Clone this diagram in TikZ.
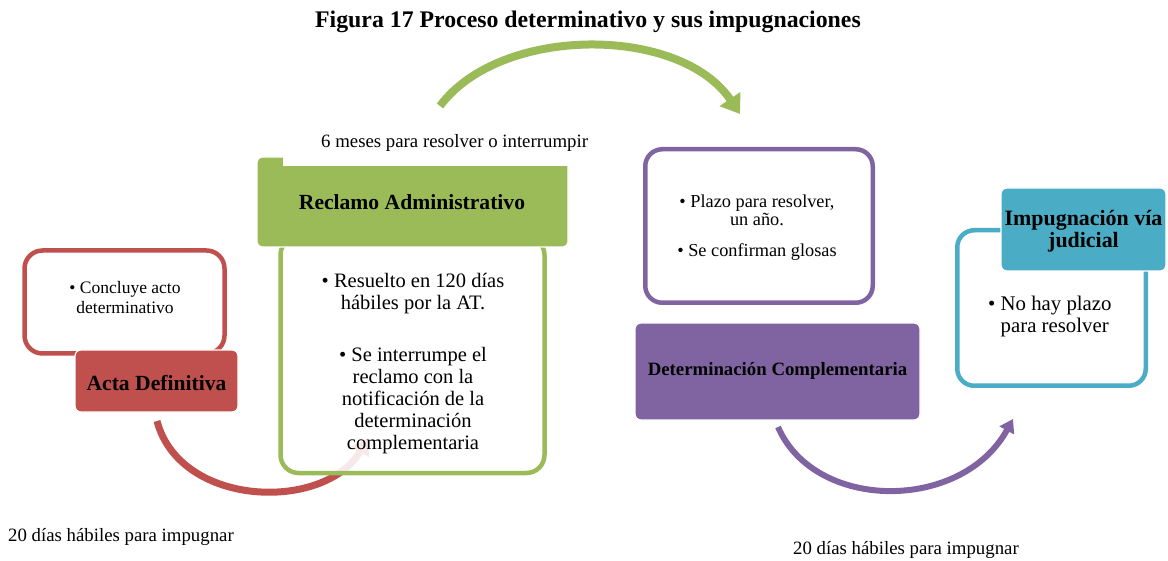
\documentclass[tikz,border=0pt]{standalone}
\usepackage{fontspec}
\setmainfont{Liberation Serif}
\usetikzlibrary{arrows.meta}
\definecolor{cred}{HTML}{C0504D}
\definecolor{cgreen}{HTML}{9BBB59}
\definecolor{cpurple}{HTML}{8064A2}
\definecolor{cteal}{HTML}{4BACC6}
\begin{document}
\begin{tikzpicture}[x=1pt,y=-1pt,
  outbox/.style={draw, line width=4.5pt, fill=white, rounded corners=18pt, inner sep=0pt},
  fillbox/.style={draw=white, line width=1.2pt, rounded corners=6pt, inner sep=0pt},
  txt/.style={inner sep=0pt, align=center},
  arc/.style={line width=#1, line cap=butt},
  bhead/.style={font=\bfseries\fontsize{21.6}{22}\selectfont, inner sep=0pt, align=center},
  lbl/.style={inner sep=0pt, font=\fontsize{18.8}{22}\selectfont}
]
\useasboundingbox (0,0) rectangle (1168,561);

% title
\node[inner sep=0pt, font=\bfseries\fontsize{23.8}{26}\selectfont] (title) at (588,22) {Figura 17 Proceso determinativo y sus impugnaciones};

% arc end points
\coordinate (r0) at (157,421);
\coordinate (r1) at (368,438);
\coordinate (g0) at (440,106);
\coordinate (g1) at (740,114);
\coordinate (p0) at (778,427);
\coordinate (p1) at (1013,419);

% arcs
\draw[arc=7pt, cred, -{Triangle[length=16pt,width=20pt]}] (r0) .. controls (180,508) and (325,512) .. (r1);
\draw[arc=8pt, cgreen, -{Triangle[length=18pt,width=24pt]}] (g0) .. controls (500,25) and (680,25) .. (g1);
\draw[arc=6pt, cpurple, -{Triangle[length=13pt,width=16pt]}] (p0) .. controls (815,512) and (962,512) .. (p1);

% red
\node[outbox, draw=cred, minimum width=200pt, minimum height=103pt] (rbox) at (124.5,302) {};
\node[fillbox, fill=cred, minimum width=163pt, minimum height=62pt] (acta) at (156.5,381) {};
\node[bhead] (actat) at (156.5,383) {Acta Definitiva};
\node[txt, font=\fontsize{17.5}{20}\selectfont] (rtext) at (125,298) {\textbullet\ Concluye acto\\determinativo};

% green
\node[outbox, draw=cgreen, fill opacity=0.88, minimum width=264pt, minimum height=236pt] (gbox) at (412.5,355) {};
\node[fillbox, fill=cgreen, rounded corners=5pt, minimum width=311pt, minimum height=90pt] (recl) at (412.5,202) {};
\node[lbl, fill=white, text width=290pt, align=flush right, inner xsep=15pt, minimum height=46pt] (seis) at (443,143) {6 meses para resolver o interrumpir};
\node[bhead] (reclt) at (412,202) {Reclamo Administrativo};
\node[txt, font=\fontsize{20.5}{22}\selectfont] (gtext1) at (413,294) {\textbullet\ Resuelto en 120 días\\hábiles por la AT.};
\node[txt, font=\fontsize{20.5}{22}\selectfont] (gtext2) at (413,401) {\textbullet\ Se interrumpe el\\reclamo con la\\notificación de la\\determinación\\complementaria};

% purple
\node[outbox, draw=cpurple, rounded corners=17pt, minimum width=227.5pt, minimum height=153.5pt] (pbox) at (759,226) {};
\node[fillbox, fill=cpurple, minimum width=285pt, minimum height=97pt] (deter) at (777.5,371.5) {};
\node[txt, font=\bfseries\fontsize{18.8}{20}\selectfont] (detert) at (777.5,371) {Determinación Complementaria};
\node[txt, font=\fontsize{18.3}{18}\selectfont] (ptext1) at (757,210) {\textbullet\ Plazo para resolver,\\un año.};
\node[txt, font=\fontsize{18.3}{18}\selectfont] (ptext2) at (757,252) {\textbullet\ Se confirman glosas};

% teal
\node[outbox, draw=cteal, rounded corners=17pt, minimum width=188.5pt, minimum height=155.5pt] (tbox) at (1051.5,308) {};
\node[fillbox, fill=cteal, minimum width=165pt, minimum height=83pt] (judi) at (1083.5,229.5) {};
\node[txt, font=\bfseries\fontsize{21.9}{22}\selectfont] (judit) at (1083.5,231) {Impugnación vía\\judicial};
\node[txt, align=left, anchor=west, font=\fontsize{20.8}{22}\selectfont] (ttext) at (988,316) {\textbullet\ No hay plazo\\\hphantom{\textbullet\ }para resolver};

% labels
\node[lbl, anchor=west] (dias1) at (8,537) {20 días hábiles para impugnar};
\node[lbl, anchor=west] (dias2) at (793,550) {20 días hábiles para impugnar};
\end{tikzpicture}
\end{document}
